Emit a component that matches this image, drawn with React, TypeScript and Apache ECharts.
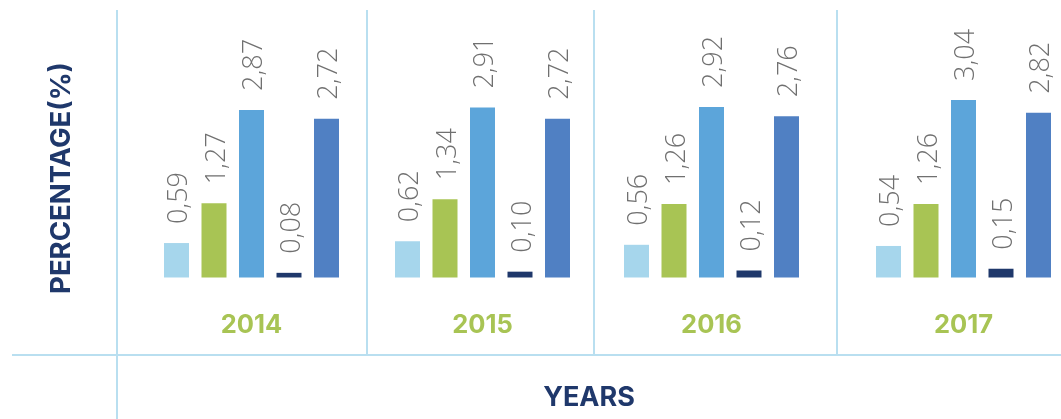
import React, { useEffect, useRef } from "react";
import * as echarts from "echarts";

const years = ["2014", "2015", "2016", "2017"];
const seriesNames = ["Series 1", "Series 2", "Series 3", "Series 4", "Series 5"];
const series1 = [0.59, 0.62, 0.56, 0.54];
const series2 = [1.27, 1.34, 1.26, 1.26];
const series3 = [2.87, 2.91, 2.92, 3.04];
const series4 = [0.08, 0.1, 0.12, 0.15];
const series5 = [2.72, 2.72, 2.76, 2.82];
const seriesColors = ["#a6d6ec", "#a8c454", "#5ca5da", "#1f386b", "#5080c3"];

const allSeries = [series1, series2, series3, series4, series5];
const gridLefts = [157.75, 388.75, 617.75, 869.75];

export default function App() {
  const ref = useRef<HTMLDivElement>(null);
  useEffect(() => {
    if (!ref.current) return;
    const chart = echarts.init(ref.current, null, { renderer: "svg" });
    const lineStyle = { stroke: "#b9dff0", lineWidth: 2 };
    const grids = years.map((_, g) => ({
      left: gridLefts[g],
      width: 187.5,
      top: 43.9,
      height: 233.6,
    }));
    const xAxes = years.map((y, g) => ({
      type: "category",
      gridIndex: g,
      data: [y],
      axisLine: { show: false },
      axisTick: { show: false },
      axisLabel: {
        margin: 33,
        color: "#a8c454",
        fontSize: 25.5,
        fontWeight: "bold",
        fontFamily: "Inter, 'Open Sans', sans-serif",
      },
    }));
    const yAxes = years.map((_, g) => ({
      type: "value",
      gridIndex: g,
      min: 0,
      max: 4,
      show: false,
      splitLine: { show: false },
    }));
    const series: any[] = [];
    years.forEach((_, g) => {
      allSeries.forEach((arr, k) => {
        series.push({
          type: "bar",
          name: seriesNames[k],
          xAxisIndex: g,
          yAxisIndex: g,
          data: [arr[g]],
          barWidth: 25,
          barGap: "50%",
          itemStyle: { color: seriesColors[k] },
          label: {
            show: true,
            position: "top",
            rotate: 90,
            align: "left",
            verticalAlign: "middle",
            distance: 19,
            color: "#707070",
            fontSize: 27,
            fontWeight: 300,
            fontFamily: "'Open Sans', sans-serif",
            formatter: (p: any) => p.value.toFixed(2).replace(".", ","),
          },
        });
      });
    });
    chart.setOption({
      animation: false,
      grid: grids,
      xAxis: xAxes,
      yAxis: yAxes,
      series,
      graphic: [
        { type: "line", shape: { x1: 117, y1: 10, x2: 117, y2: 419 }, style: lineStyle },
        { type: "line", shape: { x1: 367, y1: 10, x2: 367, y2: 355 }, style: lineStyle },
        { type: "line", shape: { x1: 594, y1: 10, x2: 594, y2: 355 }, style: lineStyle },
        { type: "line", shape: { x1: 837, y1: 10, x2: 837, y2: 355 }, style: lineStyle },
        { type: "line", shape: { x1: 12, y1: 355, x2: 1061, y2: 355 }, style: lineStyle },
        {
          type: "text",
          x: 60,
          y: 178,
          rotation: Math.PI / 2,
          style: {
            text: "PERCENTAGE(%)",
            fill: "#1f386b",
            fontSize: 27.5,
            fontWeight: "bold",
            fontFamily: "Inter, 'Open Sans', sans-serif",
            align: "center",
            verticalAlign: "middle",
          },
        },
        {
          type: "text",
          x: 589,
          y: 396,
          style: {
            text: "YEARS",
            fill: "#1f386b",
            fontSize: 27,
            fontWeight: "bold",
            fontFamily: "Inter, 'Open Sans', sans-serif",
            align: "center",
            verticalAlign: "middle",
          },
        },
      ],
    });
    return () => chart.dispose();
  }, []);
  return (
    <div
      ref={ref}
      style={{ position: "fixed", left: 0, top: 0, width: 1061, height: 419 }}
    />
  );
}
